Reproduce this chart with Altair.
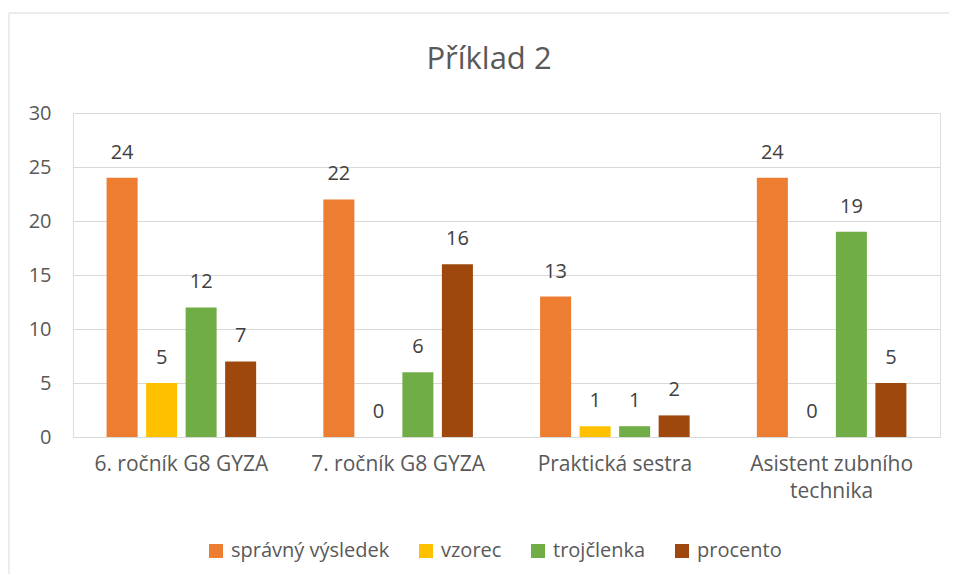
import altair as alt
import pandas as pd

title_text = "Příklad 2"
categories = ["6. ročník G8 GYZA", "7. ročník G8 GYZA", "Praktická sestra", "Asistent zubního technika"]
series = ["správný výsledek", "vzorec", "trojčlenka", "procento"]
values = {
    "správný výsledek": [24, 22, 13, 24],
    "vzorec": [5, 0, 1, 0],
    "trojčlenka": [12, 6, 1, 19],
    "procento": [7, 16, 2, 5],
}
colors = ["#ED7D31", "#FFC000", "#70AD47", "#9E480E"]
y_ticks = [0, 5, 10, 15, 20, 25, 30]

rows = []
for s in series:
    for c, v in zip(categories, values[s]):
        rows.append({"skupina": c, "série": s, "hodnota": v})
df = pd.DataFrame(rows)

FONT = "Open Sans"
TXT = "#595959"

x = alt.X("skupina:N", sort=categories,
          scale=alt.Scale(paddingInner=0.31, paddingOuter=0.155),
          axis=alt.Axis(title=None, labelFontSize=21, labelColor=TXT, labelFont=FONT,
                        labelAngle=0, labelPadding=16, ticks=False, domainColor="#D9D9D9",
                        labelLineHeight=27,
                        labelExpr="datum.label == 'Asistent zubního technika' ? ['Asistent zubního', 'technika'] : datum.label"))
xo = alt.XOffset("série:N", sort=series, scale=alt.Scale(paddingInner=0.215, paddingOuter=0))
y = alt.Y("hodnota:Q", scale=alt.Scale(domain=[0, 30]),
          axis=alt.Axis(title=None, values=y_ticks, labelFontSize=20, labelColor=TXT, labelFont=FONT,
                        labelPadding=22, ticks=False, domain=False, gridColor="#D9D9D9"))
color = alt.Color("série:N", sort=series, scale=alt.Scale(domain=series, range=colors),
                  legend=alt.Legend(title=None, orient="none", legendX=133, legendY=428,
                                    direction="horizontal", columns=4, symbolType="square",
                                    symbolSize=196, symbolStrokeWidth=0, labelFontSize=20,
                                    labelFont=FONT, labelColor=TXT, columnPadding=26,
                                    labelLimit=400, symbolOffset=0, labelOffset=5))

border = alt.Chart(pd.DataFrame({"a": [0]})).mark_rect(
    fill=None, stroke="#D9D9D9", strokeWidth=1
).encode(x=alt.value(-64), x2=alt.value(1000), y=alt.value(-100), y2=alt.value(700))

title = alt.Chart(pd.DataFrame({"t": [title_text]})).mark_text(
    fontSize=31, font=FONT, color=TXT, baseline="alphabetic", align="center"
).encode(x=alt.value(416), y=alt.value(-44), text="t:N")

bars = alt.Chart(df).mark_bar().encode(x=x, xOffset=xo, y=y, color=color)
labels = alt.Chart(df).mark_text(dy=-25, fontSize=20, font=FONT, color="#404040", baseline="middle").encode(
    x=x, xOffset=xo, y=y, text="hodnota:Q")

chart = alt.layer(border, title, bars, labels).properties(
    width=867, height=324,
    autosize=alt.AutoSizeParams(type="none"),
    padding={"left": 65, "top": 105, "right": 9, "bottom": 137},
).configure_view(stroke=None).configure(background="white")

chart.save("out.html", embed_options={"renderer": "svg", "actions": False})
